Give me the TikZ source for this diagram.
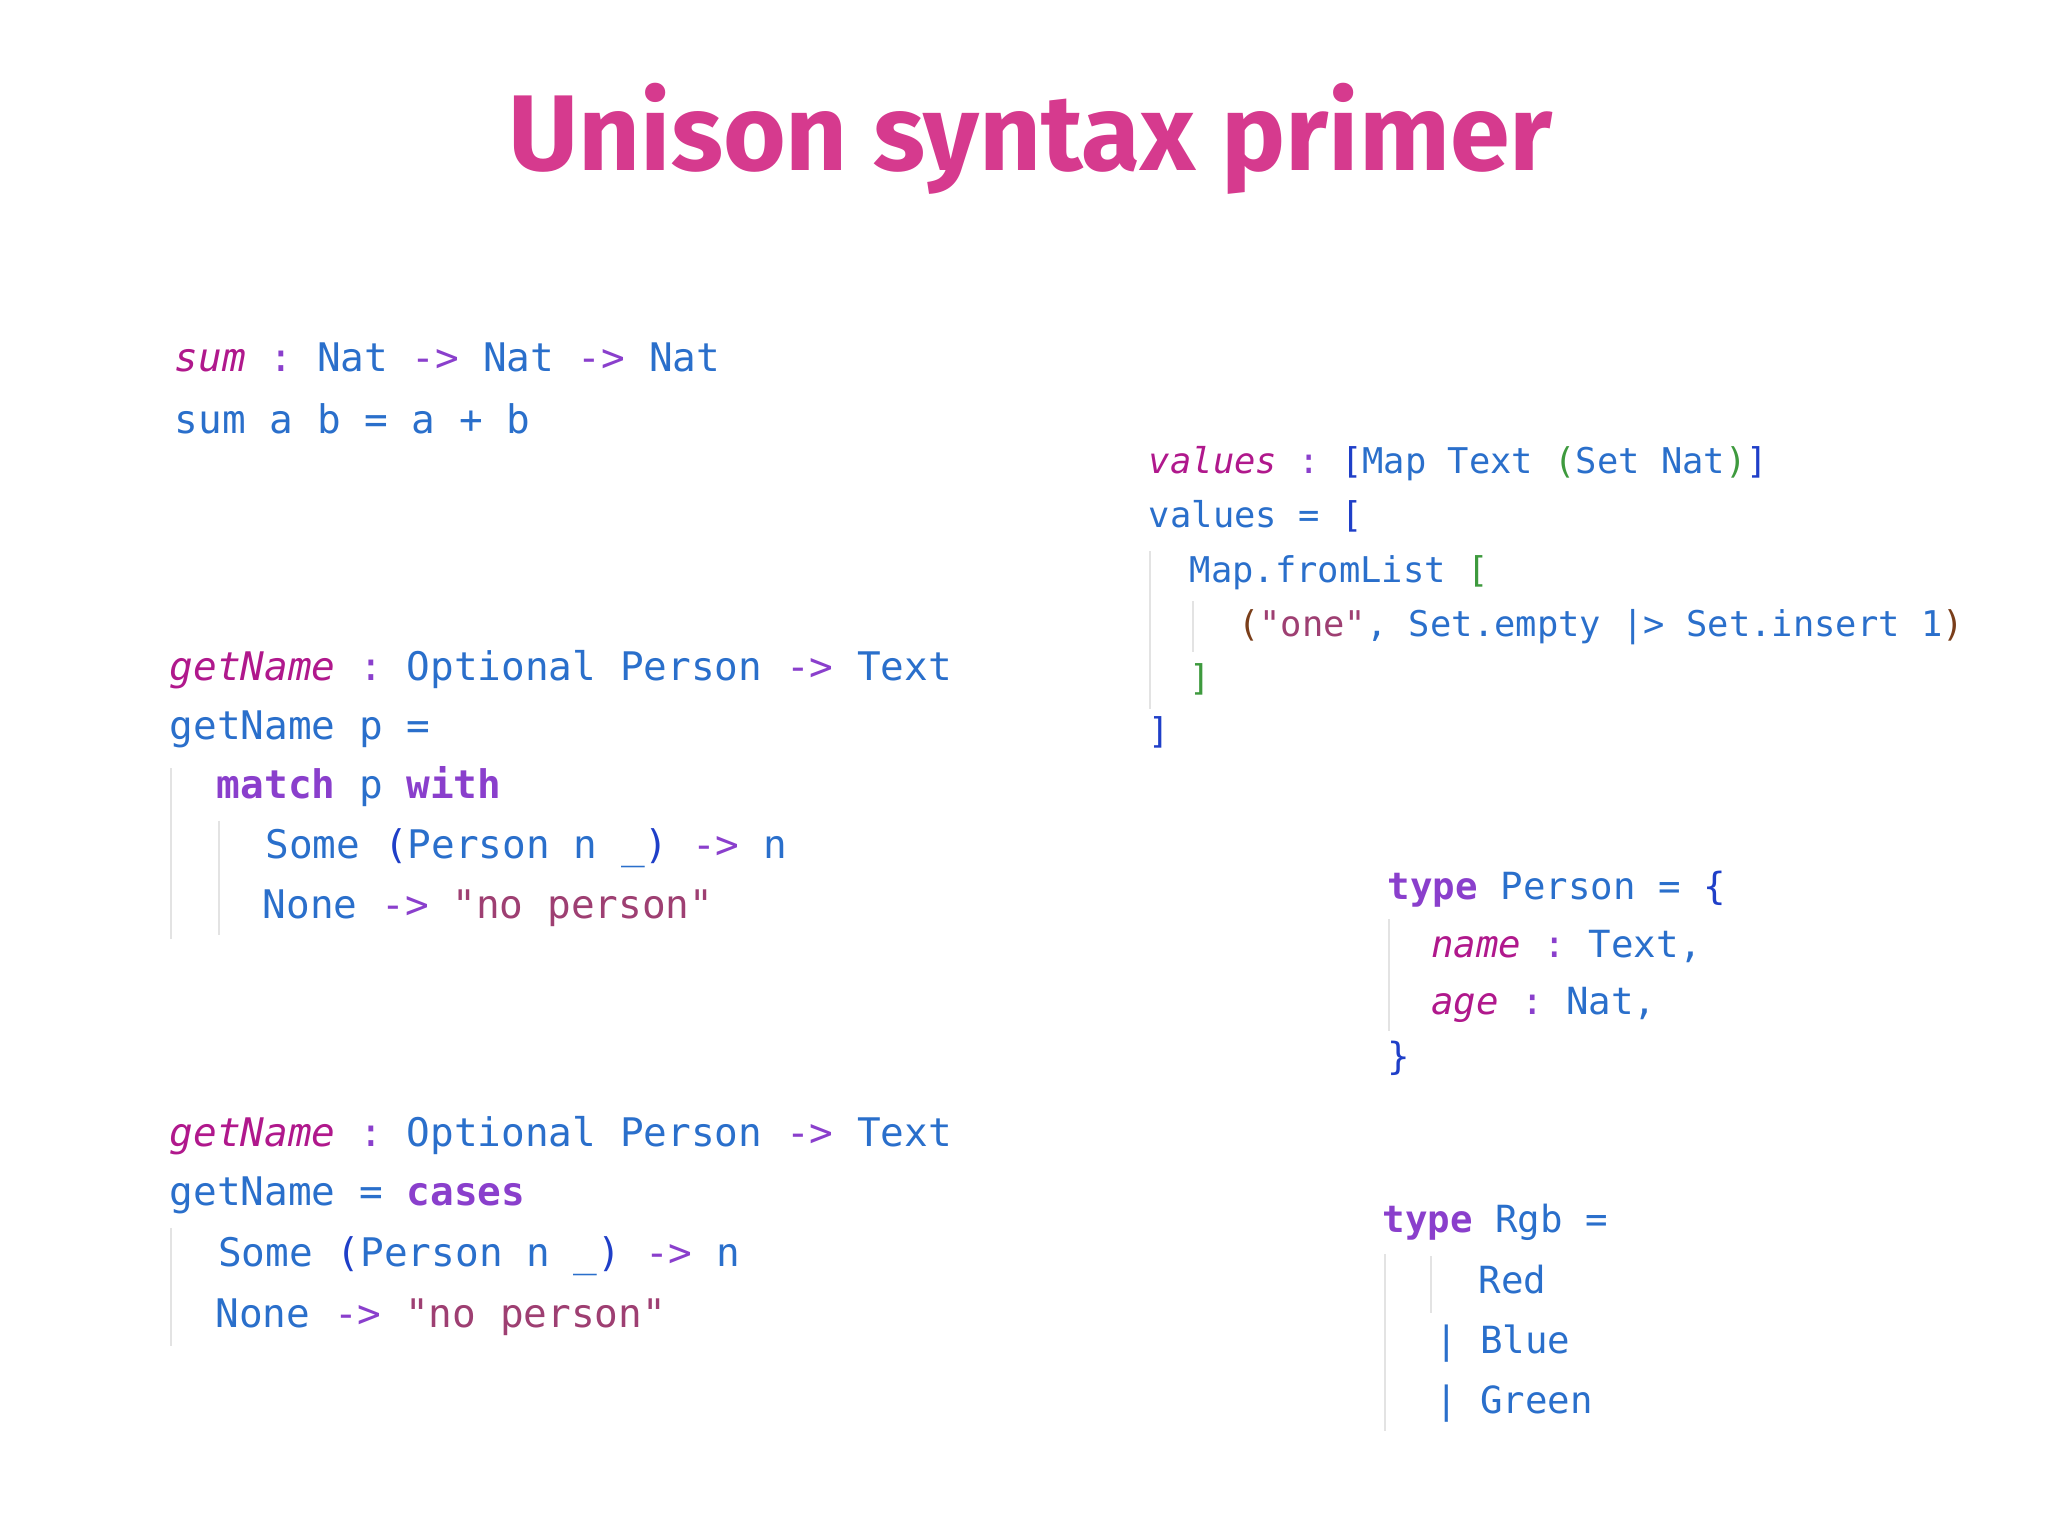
\documentclass[tikz,border=0pt]{standalone}
\usepackage{fontspec}
\setmonofont{DejaVu Sans Mono}
\setsansfont{Fira Sans}
\definecolor{ttl}{HTML}{D63A8E}
\definecolor{nm}{HTML}{B0188C}
\definecolor{bl}{HTML}{2A6FCB}
\definecolor{kw}{HTML}{8A3FCC}
\definecolor{st}{HTML}{9E3F72}
\definecolor{gr}{HTML}{3E9A3E}
\definecolor{br}{HTML}{7A3E1A}
\definecolor{db}{HTML}{1F3FC8}
\definecolor{guide}{HTML}{E3E3E3}
\newcommand{\N}[1]{\textcolor{nm}{\itshape #1}}
\newcommand{\B}[1]{\textcolor{bl}{#1}}
\newcommand{\K}[1]{\textcolor{kw}{#1}}
\newcommand{\KB}[1]{\textcolor{kw}{\bfseries #1}}
\newcommand{\Sg}[1]{\textcolor{st}{#1}}
\tikzset{
  ln/.style={anchor=base west, inner sep=0pt, font=\ttfamily\fontsize{30}{30}\selectfont},
  lv/.style={anchor=base west, inner sep=0pt, font=\ttfamily\fontsize{27}{27}\selectfont},
  lt/.style={anchor=base west, inner sep=0pt, font=\ttfamily\fontsize{28.5}{28.5}\selectfont},
  gd/.style={guide, line width=1.5pt}
}
\begin{document}
\begin{tikzpicture}[x=1pt,y=-1pt]
\useasboundingbox (0,0) rectangle (1560,1170);
\node[anchor=base, inner sep=0pt, text=ttl, font=\sffamily\bfseries\fontsize{82}{82}\selectfont] (title) at (785,130) {Unison syntax primer};
% sum
\node[ln] (s1) at (133,283) {\N{sum} \K{:} \B{Nat} \K{->} \B{Nat} \K{->} \B{Nat}};
\node[ln] (s2) at (133,330) {\B{sum a b = a + b}};
% getName 1
\node[ln] (g1) at (129,518) {\N{getName} \K{:} \B{Optional Person} \K{->} \B{Text}};
\node[ln] (g2) at (129,563) {\B{getName p =}};
\node[ln] (g3) at (165,608) {\KB{match} \B{p} \KB{with}};
\node[ln] (g4) at (202,654) {\B{Some} \textcolor{db}{(}\B{Person n \_}\textcolor{db}{)} \K{->} \B{n}};
\node[ln] (g5) at (200,700) {\B{None} \K{->} \Sg{"no person"}};
\draw[gd] (130,585) -- (130,715);
\draw[gd] (167,625) -- (167,712);
% getName 2
\node[ln] (h1) at (129,873) {\N{getName} \K{:} \B{Optional Person} \K{->} \B{Text}};
\node[ln] (h2) at (129,918) {\B{getName =} \KB{cases}};
\node[ln] (h3) at (166,965) {\B{Some} \textcolor{db}{(}\B{Person n \_}\textcolor{db}{)} \K{->} \B{n}};
\node[ln] (h4) at (164,1011) {\B{None} \K{->} \Sg{"no person"}};
\draw[gd] (130,935) -- (130,1025);
% values
\node[lv] (v1) at (875,361) {\N{values} \K{:} \textcolor{db}{[}\B{Map Text} \textcolor{gr}{(}\B{Set Nat}\textcolor{gr}{)}\textcolor{db}{]}};
\node[lv] (v2) at (875,402) {\B{values =} \textcolor{db}{[}};
\node[lv] (v3) at (906,444) {\B{Map.fromList} \textcolor{gr}{[}};
\node[lv] (v4) at (943,485) {\textcolor{br}{(}\Sg{"one"}\B{, Set.empty |> Set.insert 1}\textcolor{br}{)}};
\node[lv] (v5) at (906,526) {\textcolor{gr}{]}};
\node[lv] (v6) at (875,566) {\textcolor{db}{]}};
\draw[gd] (876,420) -- (876,540);
\draw[gd] (909,458) -- (909,497);
% type Person
\node[lt] (p1) at (1057,685) {\KB{type} \B{Person =} \textcolor{db}{\{}};
\node[lt] (p2) at (1090,729) {\N{name} \K{:} \B{Text,}};
\node[lt] (p3) at (1090,773) {\N{age} \K{:} \B{Nat,}};
\node[lt] (p4) at (1057,815) {\textcolor{db}{\}}};
\draw[gd] (1058,700) -- (1058,785);
% type Rgb
\node[lt] (r1) at (1053,939) {\KB{type} \B{Rgb =}};
\node[lt] (r2) at (1126,985) {\B{Red}};
\node[lt] (r3) at (1093,1031) {\B{| Blue}};
\node[lt] (r4) at (1093,1077) {\B{| Green}};
\draw[gd] (1055,955) -- (1055,1090);
\draw[gd] (1090,957) -- (1090,1000);
\end{tikzpicture}
\end{document}
